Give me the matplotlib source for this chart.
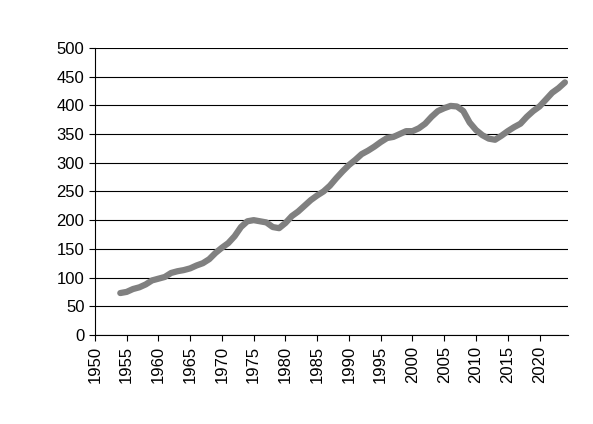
import matplotlib
matplotlib.use("Agg")
import matplotlib.pyplot as plt

years = list(range(1954, 2025))
values = [73, 75, 80, 83, 88, 95, 98, 101, 108, 111, 113, 116, 121, 125, 132, 143,
          152, 160, 172, 188, 198, 200, 198, 196, 188, 186, 195, 207, 215, 225, 235,
          243, 250, 260, 273, 285, 296, 305, 315, 321, 328, 336, 343, 345, 350, 355,
          355, 360, 368, 380, 390, 395, 399, 398, 390, 370, 357, 348, 342, 340, 347,
          355, 362, 368, 380, 390, 398, 410, 422, 430, 440]
xticks = list(range(1950, 2025, 5))
yticks = list(range(0, 501, 50))

plt.rcParams['font.family'] = ['Liberation Sans', 'DejaVu Sans']
fig = plt.figure(figsize=(5.93, 4.24), dpi=100)
ax = fig.add_axes([0.16, 0.21, 0.798, 0.677])
ax.plot(years, values, color='#808080', lw=4.5, solid_capstyle='round', zorder=3)
ax.set_xlim(1950, 2024.5)
ax.set_ylim(0, 500)
ax.set_xticks(xticks)
ax.set_xticklabels([str(x) for x in xticks], rotation=90, fontsize=12)
ax.set_yticks(yticks)
ax.set_yticklabels([str(y) for y in yticks], fontsize=12)
ax.yaxis.grid(True, color='black', lw=0.8)
ax.set_axisbelow(True)
for s in ['top', 'right']:
    ax.spines[s].set_visible(False)
ax.tick_params(axis='y', length=4, direction='out')
ax.tick_params(axis='x', length=4, direction='out')
fig.savefig('out.png', dpi=100)
